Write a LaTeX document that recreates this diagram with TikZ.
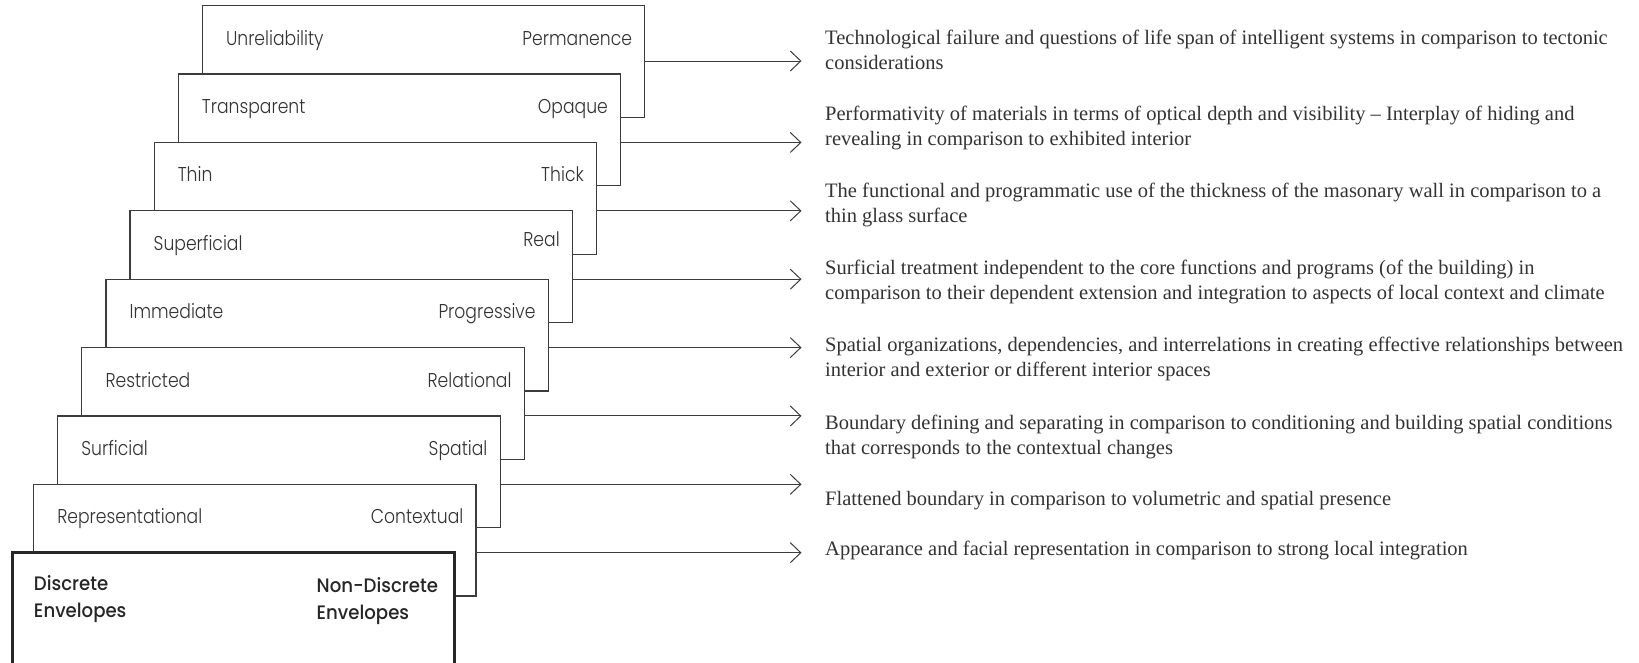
\documentclass[tikz,border=0pt]{standalone}
\usepackage{fontspec}
\usepackage{tikz}
\usetikzlibrary{arrows.meta,positioning,calc}
\setmainfont{Liberation Serif}
\newfontfamily\gothiclight{Poppins Light}[FakeStretch=0.86]
\newfontfamily\gothic{Poppins Medium}[FakeStretch=0.93]
\definecolor{inkgray}{HTML}{333333}
\definecolor{linegray}{HTML}{3C3C3C}
\tikzset{%
  arrow/.style={-{Straight Barb[length=10.5pt,width=20pt,line width=1pt]}, line width=1pt, draw=linegray}%
}

\begin{document}
\begin{tikzpicture}[
    x=1pt, y=-1pt,
    pane/.style={
        draw=linegray,
        fill=white,
        line width=1.2pt,
        minimum width=442.4pt,
        minimum height=111.7pt,
        inner sep=0pt,
        outer sep=0pt,
        anchor=north west
    },
    basepane/.style={
        pane,
        draw=black!85,
        line width=2.8pt
    },
    lpole/.style={
        font=\gothiclight\fontsize{20}{24}\selectfont,
        text=inkgray,
        inner sep=0pt,
        anchor=base west
    },
    rpole/.style={
        lpole,
        anchor=base east
    },
    envpole/.style={
        font=\gothic\fontsize{19.5}{27}\selectfont,
        text=black!85,
        align=left,
        inner sep=0pt,
        anchor=base west
    },
    note/.style={
        font=\fontsize{20.5}{25}\selectfont,
        text=inkgray,
        align=left,
        inner sep=0pt,
        anchor=base west
    }
]

\useasboundingbox (0,0) rectangle (1639,662);

% Stacked panes, drawn from the back to the front
\node[pane] (unrel) at (202.3,5.7) {};
\node[lpole] (unrel-l) at ([shift={(23.5,39.5)}]unrel.north west) {Unreliability};
\node[rpole] (unrel-r) at ([shift={(-12.5,39.5)}]unrel.north east) {Permanence};

\node[pane] (transp) at ([shift={(-24.1,68.375)}]unrel.north west) {};
\node[lpole] (transp-l) at ([shift={(23.5,39.5)}]transp.north west) {Transparent};
\node[rpole] (transp-r) at ([shift={(-12.5,39.5)}]transp.north east) {Opaque};

\node[pane] (thin) at ([shift={(-24.1,68.375)}]transp.north west) {};
\node[lpole] (thin-l) at ([shift={(23.5,39.5)}]thin.north west) {Thin};
\node[rpole] (thin-r) at ([shift={(-12.5,39.5)}]thin.north east) {Thick};

\node[pane] (superf) at ([shift={(-24.1,68.375)}]thin.north west) {};
\node[lpole] (superf-l) at ([shift={(23.5,39.5)}]superf.north west) {Superficial};
\node[rpole] (superf-r) at ([shift={(-12.5,36)}]superf.north east) {Real};

\node[pane] (immed) at ([shift={(-24.1,68.375)}]superf.north west) {};
\node[lpole] (immed-l) at ([shift={(23.5,39.5)}]immed.north west) {Immediate};
\node[rpole] (immed-r) at ([shift={(-12.5,39.5)}]immed.north east) {Progressive};

\node[pane] (restr) at ([shift={(-24.1,68.375)}]immed.north west) {};
\node[lpole] (restr-l) at ([shift={(23.5,39.5)}]restr.north west) {Restricted};
\node[rpole] (restr-r) at ([shift={(-12.5,39.5)}]restr.north east) {Relational};

\node[pane] (surf) at ([shift={(-24.1,68.375)}]restr.north west) {};
\node[lpole] (surf-l) at ([shift={(23.5,39.5)}]surf.north west) {Surficial};
\node[rpole] (surf-r) at ([shift={(-12.5,39.5)}]surf.north east) {Spatial};

\node[pane] (repr) at ([shift={(-24.1,68.375)}]surf.north west) {};
\node[lpole] (repr-l) at ([shift={(23.5,39.5)}]repr.north west) {Representational};
\node[rpole] (repr-r) at ([shift={(-12.5,39.5)}]repr.north east) {Contextual};

% Front pane (base anchor sits on the second line)
\node[basepane] (discr) at ([shift={(-21.3,68.375)}]repr.north west) {};
\node[envpole] (discr-l) at ([shift={(21.5,64.3)}]discr.north west) {Discrete\\Envelopes};
\node[envpole] (discr-r) at ([shift={(-138.2,66.3)}]discr.north east) {Non-Discrete\\Envelopes};

% Descriptions (two-line notes are placed by their last line)
\node[note] (txt1) at (825,69.3)
{Technological failure and questions of life span of intelligent systems in comparison to tectonic\\considerations};
\node[note] (txt2) at (825,145.7)
{Performativity of materials in terms of optical depth and visibility -- Interplay of hiding and\\revealing in comparison to exhibited interior};
\node[note] (txt3) at (825,222.3)
{The functional and programmatic use of the thickness of the masonary wall in comparison to a\\thin glass surface};
\node[note] (txt4) at (825,299.3)
{Surficial treatment independent to the core functions and programs (of the building) in\\comparison to their dependent extension and integration to aspects of local context and climate};
\node[note] (txt5) at (825,376.7)
{Spatial organizations, dependencies, and interrelations in creating effective relationships between\\interior and exterior or different interior spaces};
\node[note] (txt6) at (825,454)
{Boundary defining and separating in comparison to conditioning and building spatial conditions\\that corresponds to the contextual changes};
\node[note] (txt7) at (825,505)
{Flattened boundary in comparison to volumetric and spatial presence};
\node[note] (txt8) at (825,555.7)
{Appearance and facial representation in comparison to strong local integration};

% Arrow tips
\coordinate (tip1) at (801.5,61);
\coordinate (tip2) at (thin.north -| tip1);
\coordinate (tip3) at (superf.north -| tip1);
\coordinate (tip4) at (immed.north -| tip1);
\coordinate (tip5) at (restr.north -| tip1);
\coordinate (tip6) at (surf.north -| tip1);
\coordinate (tip7) at (repr.north -| tip1);
\coordinate (tip8) at (discr.north -| tip1);

% Arrows
\draw[arrow] (tip1 -| unrel.east) -- (tip1);
\draw[arrow] (tip2 -| transp.east) -- (tip2);
\draw[arrow] (tip3 -| thin.east) -- (tip3);
\draw[arrow] (tip4 -| superf.east) -- (tip4);
\draw[arrow] (tip5 -| immed.east) -- (tip5);
\draw[arrow] (tip6 -| restr.east) -- (tip6);
\draw[arrow] (tip7 -| surf.east) -- (tip7);
\draw[arrow] (tip8 -| repr.east) -- (tip8);

\end{tikzpicture}
\end{document}
